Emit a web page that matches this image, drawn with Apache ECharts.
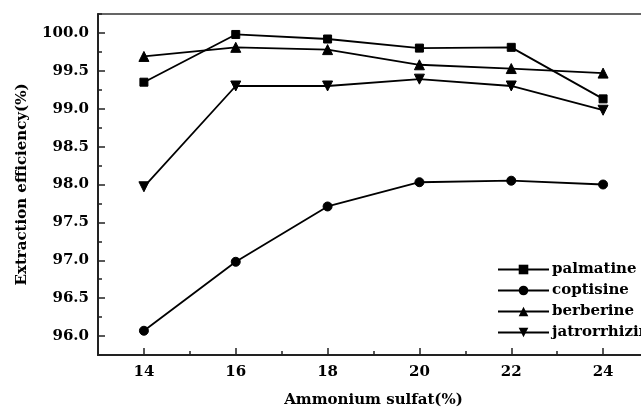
<!DOCTYPE html>
<html>
<head>
<meta charset="utf-8">
<script src="https://cdn.jsdelivr.net/npm/echarts@6/dist/echarts.min.js"></script>
<style>html,body{margin:0;padding:0;background:#fff;}#c{width:641px;height:410px;}</style>
</head>
<body>
<div id="c"></div>
<script>
const xValues = [14, 16, 18, 20, 22, 24];
const xTickLabels = [14, 16, 18, 20, 22, 24];
const yTickLabels = [96.0, 96.5, 97.0, 97.5, 98.0, 98.5, 99.0, 99.5, 100.0];
const palmatine = [99.35, 99.98, 99.92, 99.80, 99.81, 99.13];
const coptisine = [96.07, 96.98, 97.71, 98.03, 98.05, 98.00];
const berberine = [99.69, 99.81, 99.78, 99.58, 99.53, 99.47];
const jatrorrhizine = [97.97, 99.30, 99.30, 99.39, 99.30, 98.98];
const seriesNames = ['palmatine', 'coptisine', 'berberine', 'jatrorrhizine'];

const FONT = 'DejaVu Serif';
const pair = arr => xValues.map((x, i) => [x, arr[i]]);
const symbols = ['rect', 'circle', 'triangle', 'path://M0,0 L10,0 L5,8.66 Z'];
const sizes = [8, 9, 10, 10];
const datas = [palmatine, coptisine, berberine, jatrorrhizine];

const chart = echarts.init(document.getElementById('c'), null, {renderer: 'canvas'});
chart.setOption({
  animation: false,
  backgroundColor: '#fff',
  grid: {left: 98, top: 14, width: 551, height: 341, outerBoundsMode: 'none', containLabel: false,
    show: true, borderColor: '#333', borderWidth: 1.5, backgroundColor: 'transparent'},
  legend: {
    orient: 'vertical', left: 497, top: 262, padding: 0,
    itemWidth: 51, itemHeight: 12, itemGap: 6,
    textStyle: {fontFamily: FONT, fontWeight: 'bold', fontSize: 15, color: '#000', padding: [0, 0, 0, -2]},
    data: seriesNames
  },
  xAxis: [{
    type: 'value', min: 13, max: 25, interval: 1,
    name: 'Ammonium sulfat(%)', nameLocation: 'middle', nameGap: 38,
    nameTextStyle: {fontFamily: FONT, fontWeight: 'bold', fontSize: 15, color: '#000'},
    axisLine: {lineStyle: {color: '#222', width: 2}},
    axisTick: {inside: true, length: 4, lineStyle: {color: '#222', width: 1.5}},
    axisLabel: {margin: 10, fontFamily: FONT, fontWeight: 'bold', fontSize: 15, color: '#000',
      formatter: v => (xTickLabels.indexOf(v) >= 0 ? String(v) : '')},
    splitLine: {show: false}
  }, {
    type: 'value', min: 13, max: 25, position: 'bottom',
    axisLine: {show: false},
    axisTick: {inside: true, length: 7, customValues: xTickLabels, lineStyle: {color: '#222', width: 1.5}},
    axisLabel: {show: false},
    splitLine: {show: false}
  }],
  yAxis: [{
    type: 'value', min: 95.75, max: 100.25, interval: 0.25,
    name: 'Extraction efficiency(%)', nameLocation: 'middle', nameGap: 68,
    nameTextStyle: {fontFamily: FONT, fontWeight: 'bold', fontSize: 15, color: '#000'},
    axisLine: {show: true, lineStyle: {color: '#222', width: 2}},
    axisTick: {show: true, inside: true, length: 4, lineStyle: {color: '#222', width: 1.5}},
    axisLabel: {margin: 9, fontFamily: FONT, fontWeight: 'bold', fontSize: 15, color: '#000',
      formatter: v => {
        const m = yTickLabels.find(t => Math.abs(t - v) < 1e-6);
        return m === undefined ? '' : m.toFixed(1);
      }},
    splitLine: {show: false}
  }, {
    type: 'value', min: 95.75, max: 100.25, position: 'left',
    axisLine: {show: false},
    axisTick: {show: true, inside: true, length: 7, customValues: yTickLabels, lineStyle: {color: '#222', width: 1.5}},
    axisLabel: {show: false},
    splitLine: {show: false}
  }],
  series: seriesNames.map((n, i) => ({
    name: n, type: 'line', xAxisIndex: 0, yAxisIndex: 0,
    data: pair(datas[i]),
    symbol: symbols[i], symbolSize: sizes[i],
    lineStyle: {color: '#000', width: 1.8},
    itemStyle: {color: '#000', borderColor: '#000'},
    color: '#000'
  }))
});
</script>
</body>
</html>
